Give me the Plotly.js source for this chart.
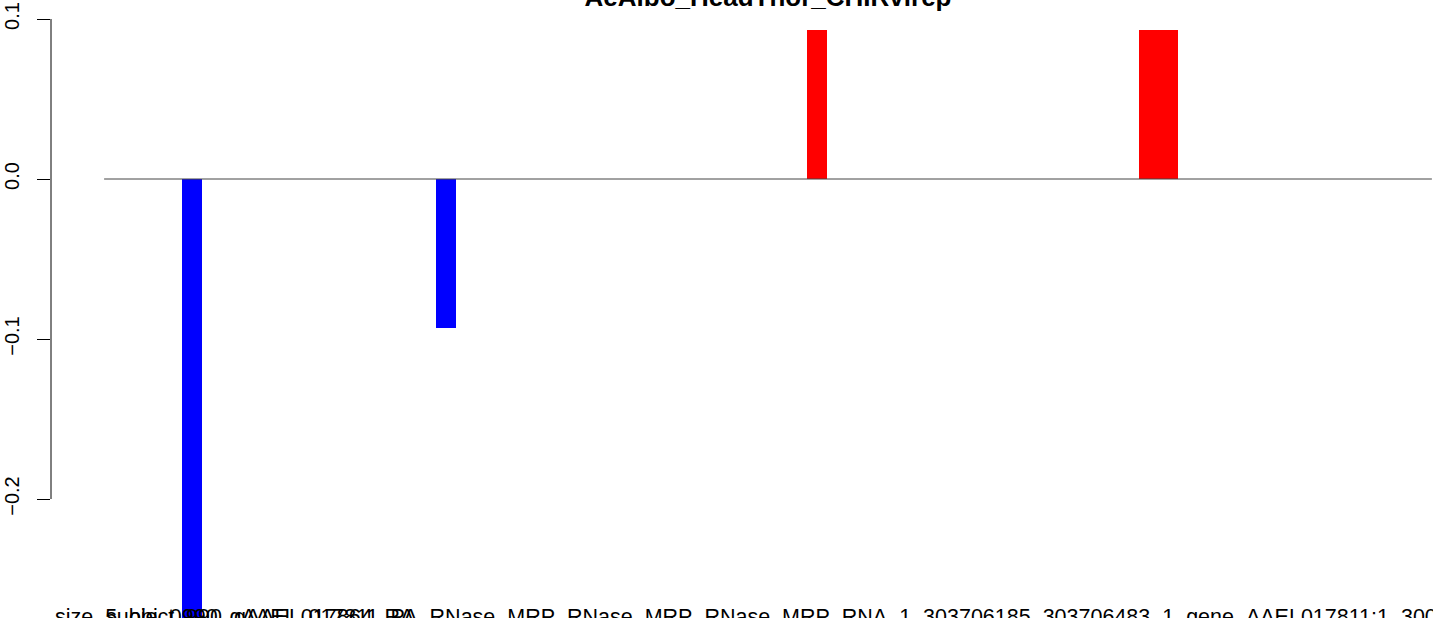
<!DOCTYPE html>
<html>
<head>
<meta charset="utf-8">
<script src="https://cdn.plot.ly/plotly-3.0.1.min.js"></script>
<style>html,body{margin:0;padding:0;background:#fff;}#chart{width:1433px;height:618px;}</style>
</head>
<body>
<div id="chart"></div>
<script>
// ---- data ----
const chartTitle = "AeAlbo_HeadThor_CHIRvirep";
const values = [
  0, 0, 0, 0, -0.28, 0, 0, 0, 0, 0,
  0, 0, 0, 0, 0, 0, 0, -0.0931, 0, 0,
  0, 0, 0, 0, 0, 0, 0, 0, 0, 0,
  0, 0, 0, 0, 0, 0, 0.0931, 0, 0, 0,
  0, 0, 0, 0, 0, 0, 0, 0, 0, 0,
  0, 0, 0, 0.0931, 0.0931, 0, 0, 0, 0, 0,
  0, 0, 0, 0, 0, 0, 0, 0
];
const yTickVals = [-0.2, -0.1, 0.0, 0.1];
const yTickText = ["\u22120.2", "\u22120.1", "0.0", "0.1"];
const bottomLabels = [
  "size_5_obj_0990_gAAEL_017811_PA_RNase_MRP_RNase_MRP_RNase_MRP_RNA_1_303706185_303706483_1_gene_AAEL017811:1_300",
  "subject_990_gAAEL017864_RA"
];

// ---- drawing ----
const n = values.length;
const xs = values.map((v, i) => i + 0.5);
const colors = values.map(v => v < 0 ? "#0000FF" : "#FF0000");
const font = "Liberation Sans, Arial, Helvetica, sans-serif";

const trace = {
  type: "bar",
  x: xs,
  y: values,
  width: 1,
  marker: {color: colors, line: {width: 0}},
  hoverinfo: "skip"
};

const pxPerUnit = 1434 / (n * 1.08);
const xMin = -0.04 * n;
const xMax = xMin + (1433 - 51) / pxPerUnit;

const layout = {
  width: 1433,
  height: 618,
  margin: {l: 51, r: 0, t: 0, b: 0, pad: 0},
  paper_bgcolor: "#ffffff",
  plot_bgcolor: "#ffffff",
  showlegend: false,
  bargap: 0,
  title: {
    text: chartTitle,
    font: {family: font, size: 26, color: "#000", weight: "bold"},
    xref: "container", x: 768 / 1433, xanchor: "center",
    yref: "container", y: 1 - 6 / 618, yanchor: "bottom",
    pad: {t: 0, b: 0, l: 0, r: 0}
  },
  xaxis: {
    range: [xMin, xMax],
    visible: false,
    fixedrange: true
  },
  yaxis: {
    range: [-0.274375, 0.111875],
    tickmode: "array",
    tickvals: yTickVals,
    ticktext: yTickText,
    ticks: "outside",
    ticklen: 13,
    tickwidth: 1,
    tickcolor: "#000",
    tickangle: -90,
    ticklabelstandoff: 10,
    tickfont: {family: font, size: 20, color: "#000"},
    showline: false,
    zeroline: false,
    showgrid: false,
    fixedrange: true
  },
  shapes: [
    {type: "line", xref: "paper", yref: "y", x0: 0, x1: 0,
     y0: Math.min(...yTickVals), y1: Math.max(...yTickVals),
     line: {color: "#000", width: 1}},
    {type: "line", xref: "x", yref: "y", x0: 0, x1: n, y0: 0, y1: 0,
     line: {color: "#444", width: 1}}
  ],
  annotations: [
    {text: bottomLabels[0], xref: "x", yref: "paper", x: xMin + 0.1, y: 0,
     xanchor: "left", yanchor: "top", yshift: 15, showarrow: false,
     font: {family: font, size: 21.5, color: "#000"}},
    {text: bottomLabels[1], xref: "x", yref: "paper", x: 0, y: 0,
     xanchor: "left", yanchor: "top", yshift: 15, showarrow: false,
     font: {family: font, size: 21.5, color: "#000"}}
  ]
};

Plotly.newPlot("chart", [trace], layout, {displayModeBar: false, staticPlot: true});
</script>
</body>
</html>
